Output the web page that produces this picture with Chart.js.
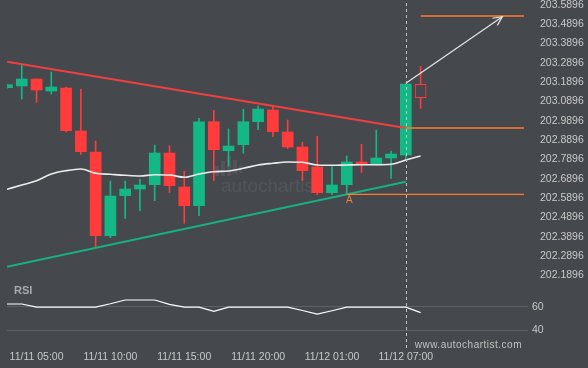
<!DOCTYPE html>
<html><head><meta charset="utf-8">
<script src="https://cdn.jsdelivr.net/npm/chart.js@4.4.0/dist/chart.umd.min.js"></script>
<style>html,body{margin:0;padding:0;background:#45484d;}canvas{display:block;}</style>
</head><body>
<canvas id="c" width="588" height="368"></canvas>
<script>
const times = ["11/11 03:00","11/11 04:00","11/11 05:00","11/11 06:00","11/11 07:00","11/11 08:00","11/11 09:00","11/11 10:00","11/11 11:00","11/11 12:00","11/11 13:00","11/11 14:00","11/11 15:00","11/11 16:00","11/11 17:00","11/11 18:00","11/11 19:00","11/11 20:00","11/11 21:00","11/11 22:00","11/11 23:00","11/12 00:00","11/12 01:00","11/12 02:00","11/12 04:00","11/12 05:00","11/12 06:00","11/12 07:00","11/12 08:00"];
const opens  = [203.1602,203.1690,203.2052,203.1432,203.1587,202.9362,202.8276,202.3946,202.6015,202.6362,202.6585,202.8224,202.6465,202.5498,202.9843,202.8343,202.8654,202.9843,203.0449,202.9311,202.8535,202.7500,202.6171,202.6585,202.7759,202.7655,202.7966,202.8121,203.1778];
const highs  = [203.1780,203.2828,203.2052,203.2414,203.1640,203.1520,202.8845,202.6776,202.6776,202.6879,202.8638,202.8602,202.7278,203.0019,203.0433,202.9466,203.0485,203.0656,203.0619,202.9931,202.8778,202.9088,202.7516,202.8069,202.8674,202.9414,202.8328,203.1794,203.2709];
const lows   = [203.1580,203.1018,203.0847,203.1276,202.9311,202.8157,202.3294,202.3843,202.4846,202.5239,202.5757,202.6171,202.4588,202.4981,202.6791,202.7552,202.8209,202.9430,202.9067,202.8447,202.6791,202.6067,202.6067,202.6067,202.7205,202.7604,202.6916,202.7862,203.0537];
const closes = [203.1757,203.2052,203.1483,203.1638,202.9378,202.8292,202.3946,202.6000,202.6362,202.6569,202.8224,202.6533,202.5498,202.9843,202.8395,202.8586,202.9843,203.0500,202.9326,202.8535,202.7309,202.6171,202.6569,202.7759,202.7671,202.7966,202.8173,203.1794,203.1085];
const maValues = [202.6346,202.6569,202.6791,202.7138,202.7309,202.7397,202.7174,202.7122,202.7071,202.7035,202.7102,202.7086,202.6967,202.7138,202.7257,202.7293,202.7433,202.7604,202.7692,202.7759,202.7743,202.7604,202.7588,202.7604,202.7619,202.7619,202.7640,202.7862,202.8069];
const rsiValues = [62.3,62.3,59.6,59.6,59.6,59.6,59.6,62.5,65.7,65.7,65.7,62.0,59.6,59.6,56.0,59.6,59.6,59.6,59.6,59.6,56.8,53.8,56.6,59.6,59.6,59.6,59.6,59.6,55.0];
const priceTicks = [202.1896,202.2896,202.3896,202.4896,202.5896,202.6896,202.7896,202.8896,202.9896,203.0896,203.1896,203.2896,203.3896,203.4896,203.5896];
const rsiTicks = [40,60];
const timeTickIdx = [2,7,12,17,22,27];
const resistX = [0,27], resistY = [203.2947,202.9518];
const supportX = [0,27], supportY = [202.2343,202.6740];
const targetX = [28,35], targetY = [203.5311,203.5311];
const breakX = [27,35], breakY = [202.9518,202.9518];
const pointAX = [23,35], pointAY = [202.6088,202.6088];
const arrowX = [27,33.53], arrowY = [203.1830,203.5275];
const breakIdx = 27;
const labelA = {x:23.17, y:202.5757, text:'A'};

const BG = '#45484d', GREEN = '#13b886', RED = '#ff3b3b', ORANGE = '#ff7a2e';
const N = times.length;
const idx = times.map((_, i) => i);
const pts = (xs, ys) => xs.map((x, i) => ({x, y: ys[i]}));
const isUp = i => closes[i] >= opens[i];
const lastI = N - 1;

const lineDs = (label, data, color, width, axis, order, extra) => Object.assign({
  type: 'line', label, data, borderColor: color, borderWidth: width, pointRadius: 0,
  yAxisID: axis, order, tension: 0, fill: false
}, extra || {});

const font = {family: '"Liberation Sans", Arial, sans-serif', size: 10.5};
const noPadV = s => { s.width = 60; s.paddingTop = 0; s.paddingBottom = 0; };

const decor = {
  id: 'decor',
  beforeDatasetsDraw(chart) {
    const ctx = chart.ctx;
    ctx.save();
    ctx.fillStyle = 'rgba(255,255,255,0.07)';
    [[215,166,4,10],[221,161,4,15],[227,156,4,20],[233,160,4,14],[239,165,3,8]].forEach(b => ctx.fillRect(b[0], b[1], b[2], b[3]));
    ctx.font = '19px "Liberation Sans", Arial, sans-serif';
    ctx.textBaseline = 'alphabetic';
    ctx.fillText('autochartist', 221, 192);
    ctx.restore();
  },
  afterDatasetsDraw(chart) {
    const ctx = chart.ctx, xs = chart.scales.x, ys = chart.scales.y, a = chart.chartArea;
    ctx.save();
    const vx = Math.round(xs.getPixelForValue(breakIdx)) + 0.5;
    ctx.strokeStyle = '#c4c4c4'; ctx.lineWidth = 1; ctx.setLineDash([3,3]);
    ctx.beginPath(); ctx.moveTo(vx, a.top + 1); ctx.lineTo(vx, a.bottom); ctx.stroke();
    ctx.setLineDash([]);
    const ai = chart.data.datasets.findIndex(d => d.label === 'arrow');
    const m = chart.getDatasetMeta(ai).data;
    const p0 = m[0], p1 = m[1];
    const ang = Math.atan2(p1.y - p0.y, p1.x - p0.x);
    ctx.strokeStyle = '#e6e6e6'; ctx.lineWidth = 1.2;
    ctx.beginPath();
    ctx.moveTo(p1.x - 10 * Math.cos(ang - 0.45), p1.y - 10 * Math.sin(ang - 0.45));
    ctx.lineTo(p1.x, p1.y);
    ctx.lineTo(p1.x - 10 * Math.cos(ang + 0.45), p1.y - 10 * Math.sin(ang + 0.45));
    ctx.stroke();
    ctx.fillStyle = '#e8833f';
    ctx.font = '10px "Liberation Sans", Arial, sans-serif';
    ctx.textAlign = 'center'; ctx.textBaseline = 'middle';
    ctx.fillText(labelA.text, xs.getPixelForValue(labelA.x), ys.getPixelForValue(labelA.y));
    ctx.fillStyle = '#a7aaae';
    ctx.font = 'bold 11px "Liberation Sans", Arial, sans-serif';
    ctx.textAlign = 'left';
    ctx.fillText('RSI', 14, 291);
    ctx.fillStyle = '#c2c2c2';
    ctx.font = '10px "Liberation Sans", Arial, sans-serif';
    ctx.letterSpacing = '0.5px';
    ctx.textAlign = 'right';
    ctx.fillText('www.autochartist.com', 522, 345);
    ctx.restore();
  }
};

new Chart(document.getElementById('c'), {
  type: 'bar',
  data: {
    datasets: [
      { type: 'bar', label: 'wicks', data: idx.map(i => ({x: i, y: [lows[i], highs[i]]})),
        backgroundColor: idx.map(i => (i === lastI || !isUp(i)) ? RED : GREEN),
        barThickness: 1, grouped: false, borderWidth: 0, yAxisID: 'y', order: 20 },
      { type: 'bar', label: 'bodies', data: idx.map(i => ({x: i, y: [opens[i], closes[i]]})),
        backgroundColor: idx.map(i => i === lastI ? BG : (isUp(i) ? GREEN : RED)),
        borderColor: idx.map(i => i === lastI ? RED : 'rgba(0,0,0,0)'),
        borderWidth: idx.map(i => i === lastI ? 1 : 0), borderSkipped: false,
        barThickness: 11, grouped: false, yAxisID: 'y', order: 15 },
      lineDs('ma', pts(idx, maValues), '#ececec', 1.6, 'y', 8, {tension: 0.4, cubicInterpolationMode: 'monotone'}),
      lineDs('resistance', pts(resistX, resistY), '#f23f3f', 2, 'y', 6),
      lineDs('support', pts(supportX, supportY), '#17b182', 2, 'y', 6),
      lineDs('target', pts(targetX, targetY), ORANGE, 1.3, 'y', 5),
      lineDs('breakLevel', pts(breakX, breakY), ORANGE, 1.3, 'y', 5),
      lineDs('pointA', pts(pointAX, pointAY), ORANGE, 1.3, 'y', 5),
      lineDs('arrow', pts(arrowX, arrowY), '#e6e6e6', 1.2, 'y', 4),
      lineDs('rsi', pts(idx, rsiValues), '#ffffff', 1.2, 'yR', 4)
    ]
  },
  options: {
    responsive: false, animation: false, devicePixelRatio: 1,
    layout: {padding: {left: 7, top: 2, right: 0, bottom: 0}},
    plugins: {legend: {display: false}, tooltip: {enabled: false}},
    scales: {
      x: {
        type: 'linear', min: 0, max: 35.27, offset: false,
        grid: {display: false, drawTicks: false}, border: {display: false},
        afterBuildTicks: s => { s.ticks = timeTickIdx.map(v => ({value: v})); },
        afterFit: s => { s.height = 18; s.paddingLeft = 0; s.paddingRight = 0; },
        ticks: {autoSkip: false, maxRotation: 0, padding: 1, color: '#c8c8c8', font,
          callback: v => times[v]}
      },
      y: {
        type: 'linear', position: 'right', stack: 'panes', stackWeight: 283,
        min: 202.1396, max: 203.6036,
        grid: {display: false}, border: {display: false},
        afterBuildTicks: s => { s.ticks = priceTicks.map(v => ({value: v})); },
        afterFit: noPadV,
        ticks: {autoSkip: false, padding: 4, color: '#c8c8c8', font, callback: v => Number(v).toFixed(4)}
      },
      yR: {
        type: 'linear', position: 'right', stack: 'panes', stackWeight: 65,
        min: 23.3, max: 78.4,
        grid: {display: true, color: '#5d6065', lineWidth: 1, drawTicks: false}, border: {display: false},
        afterBuildTicks: s => { s.ticks = rsiTicks.map(v => ({value: v})); },
        afterFit: noPadV,
        ticks: {autoSkip: false, padding: 4, color: '#c8c8c8', font, callback: v => String(v)}
      }
    }
  },
  plugins: [decor]
});
</script>
</body></html>
